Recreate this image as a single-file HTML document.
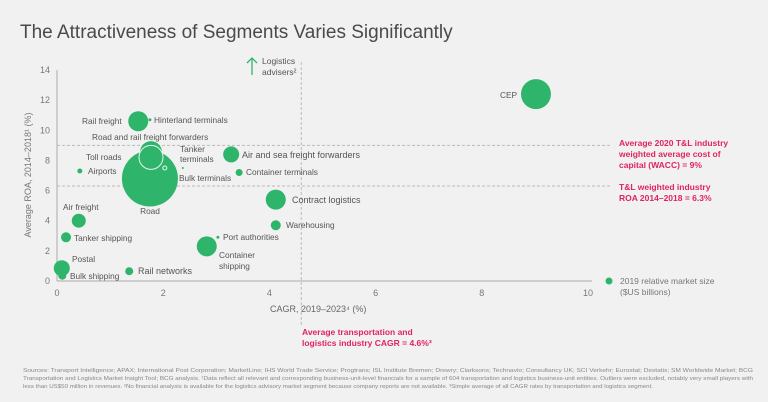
<!DOCTYPE html>
<html><head><meta charset="utf-8"><style>
body{margin:0;width:768px;height:402px;background:#f1f1f1;overflow:hidden;font-family:"Liberation Sans",sans-serif}
svg{position:absolute;left:0;top:0}
</style></head><body>
<svg id="c" width="768" height="402">
<text x="20" y="38" font-size="19" fill="#4a4a4a">The Attractiveness of Segments Varies Significantly</text>
</svg>
<script>
const categories=["CEP","Rail freight","Hinterland terminals","Road and rail freight forwarders","Toll roads","Road","Tanker terminals","Bulk terminals","Airports","Air and sea freight forwarders","Container terminals","Contract logistics","Warehousing","Port authorities","Container shipping","Air freight","Tanker shipping","Postal","Bulk shipping","Rail networks"];
const cagrValues=[9.02,1.53,1.75,1.77,1.77,1.75,2.03,2.37,0.43,3.28,3.43,4.12,4.12,3.03,2.82,0.41,0.17,0.09,0.1,1.36];
const roaValues=[12.4,10.6,10.7,8.55,8.2,6.8,7.5,7.5,7.3,8.4,7.2,5.4,3.7,2.9,2.3,4.0,2.9,0.85,0.35,0.65];
const marketSize=[15,10,1.5,11,12,28,2,1,2.5,8,3.5,10,5,1.5,10,7,5,8,4,4];
const xTicks=[0,2,4,6,8,10];
const yTicks=[0,2,4,6,8,10,12,14];
const waccLine=9, roaAvgLine=6.3, cagrAvgLine=4.6;
const outline=[false,false,false,false,true,false,true,false,false,false,false,false,false,false,false,false,false,false,false,false];
const NS="http://www.w3.org/2000/svg";
const svg=document.getElementById('c');
const X=v=>57+v*53.1, Y=v=>281-v*15.07;
function el(t,a,txt){const e=document.createElementNS(NS,t);for(const k in a)e.setAttribute(k,a[k]);if(txt!==undefined)e.textContent=txt;svg.appendChild(e);return e;}
let e=el('line',{x1:57,y1:70,x2:57,y2:281,stroke:'#aaa','stroke-width':1});

e=el('line',{x1:57,y1:281,x2:592,y2:281,stroke:'#aaa','stroke-width':1});

xTicks.forEach(t=>{const k=el('text',{x:X(t),y:296,'font-size':9,fill:'#777','text-anchor':'middle'},t);
});
yTicks.forEach(t=>{const k=el('text',{x:50,y:Y(t)+3,'font-size':9,fill:'#777','text-anchor':'end'},t);
});
e=el('line',{x1:57,y1:Y(waccLine),x2:612,y2:Y(waccLine),stroke:'#bbb','stroke-dasharray':'3,2'});

e=el('line',{x1:57,y1:Y(roaAvgLine),x2:612,y2:Y(roaAvgLine),stroke:'#bbb','stroke-dasharray':'3,2'});

e=el('line',{x1:X(cagrAvgLine),y1:62,x2:X(cagrAvgLine),y2:325,stroke:'#bbb','stroke-dasharray':'3,2'});

const order=categories.map((c,i)=>i).sort((a,b)=>(outline[a]-outline[b])||(marketSize[b]-marketSize[a]));
order.forEach(i=>{
 const c=categories[i];
 const b=el('circle',{cx:X(cagrValues[i]),cy:Y(roaValues[i]),r:marketSize[i],fill:outline[i]?'none':'#2fb56b',stroke:outline[i]?'#e8f5ec':'none','stroke-width':1});
 
 
});
const labels=[["CEP",500,98,'start'],["Rail freight",82,124,'start'],["Hinterland terminals",154,123,'start'],["Road and rail freight forwarders",92,140,'start'],["Toll roads",86,160,'start'],["Tanker",180,152,'start'],["terminals",180,162,'start'],["Bulk terminals",179,181,'start'],["Airports",88,174,'start'],["Air and sea freight forwarders",242,158,'start'],["Container terminals",246,175,'start'],["Road",150,214,'middle'],["Contract logistics",292,203,'start'],["Warehousing",286,228,'start'],["Port authorities",223,240,'start'],["Container",219,258,'start'],["shipping",219,269,'start'],["Air freight",63,210,'start'],["Tanker shipping",74,241,'start'],["Postal",72,262,'start'],["Bulk shipping",70,279,'start'],["Rail networks",138,274,'start']];
labels.forEach(l=>{const t=el('text',{x:l[1],y:l[2],'font-size':l[0]=='Rail networks'||l[0]=='Air and sea freight forwarders'||l[0]=='Contract logistics'?9:8.3,fill:'#555','text-anchor':l[3]},l[0]);
});
const ann=[["Logistics",262,64,'#555',8.5,'normal'],["advisers²",262,75,'#555',8.5,'normal'],
["Average 2020 T&L industry",619,146,'#e0245e',8.5,'bold'],["weighted average cost of",619,157,'#e0245e',8.5,'bold'],["capital (WACC) = 9%",619,168,'#e0245e',8.5,'bold'],
["T&L weighted industry",619,190,'#e0245e',8.5,'bold'],["ROA 2014–2018 = 6.3%",619,201,'#e0245e',8.5,'bold'],
["Average transportation and",302,335,'#e0245e',8.5,'bold'],["logistics industry CAGR = 4.6%³",302,346,'#e0245e',8.5,'bold'],
["2019 relative market size",620,284,'#777',8.5,'normal'],["($US billions)",620,295,'#777',8.5,'normal'],
["CAGR, 2019–2023⁴ (%)",270,312,'#666',9,'normal']];
ann.forEach(a=>{const t=el('text',{x:a[1],y:a[2],fill:a[3],'font-size':a[4],'font-weight':a[5]},a[0]);
});
e=el('circle',{cx:609,cy:281,r:3.5,fill:'#2fb56b'});
e=el('path',{d:'M252 75 V58 M247 63 L252 58 L257 63',stroke:'#2fb56b','stroke-width':1.3,fill:'none'});

e=el('text',{x:0,y:0,'font-size':9,fill:'#777','text-anchor':'middle',transform:'translate(31 175) rotate(-90)'},'Average ROA, 2014–2018¹ (%)');

const notes=["Sources: Transport Intelligence; APAX; International Post Corporation; MarketLine; IHS World Trade Service; Progtrans; ISL Institute Bremen; Drewry; Clarksons; Technavio; Consultancy UK; SCI Verkehr; Eurostat; Destatis; SM Worldwide Market; BCG","Transportation and Logistics Market Insight Tool; BCG analysis. ¹Data reflect all relevant and corresponding business-unit-level financials for a sample of 604 transportation and logistics business-unit entities. Outliers were excluded, notably very small players with","less than US$50 million in revenues. ²No financial analysis is available for the logistics advisory market segment because company reports are not available. ³Simple average of all CAGR rates by transportation and logistics segment."];
notes.forEach((n,i)=>{const t=el('text',{x:23,y:372+i*8,'font-size':5.4,fill:'#888',textLength:i==2?630:730,lengthAdjust:'spacingAndGlyphs'},n);
});
</script>
</body></html>
